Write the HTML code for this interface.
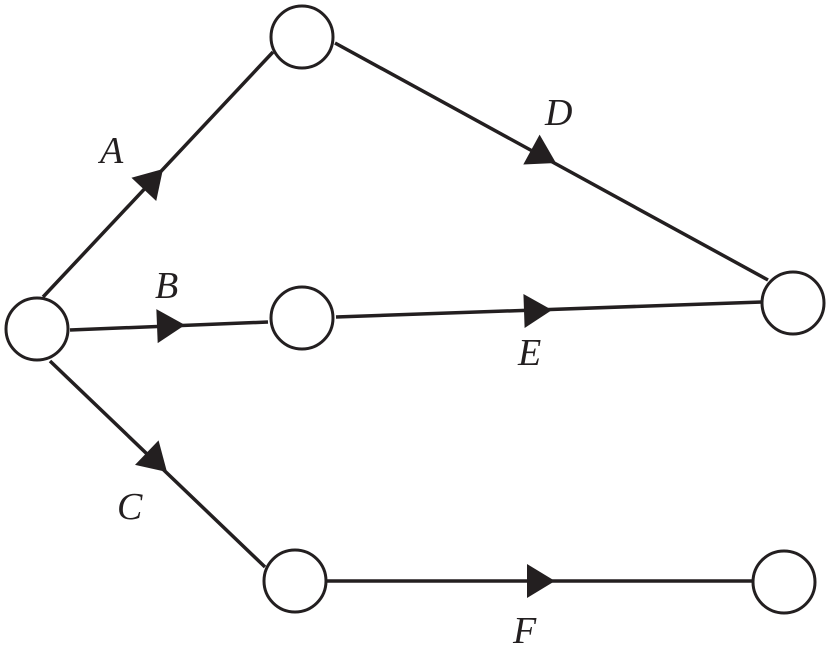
<!DOCTYPE html>
<html><head><style>
html,body{margin:0;padding:0;background:#fff;}
svg{display:block;}
text{font-family:"Liberation Serif",serif;font-style:italic;font-size:38px;fill:#231f20;}
</style></head><body>
<svg width="833" height="649" viewBox="0 0 833 649" xmlns="http://www.w3.org/2000/svg">
<g stroke="#231f20" stroke-width="3.5" fill="none">
<line x1="43" y1="297" x2="273" y2="52"/>
<line x1="70" y1="330" x2="268" y2="322"/>
<line x1="50" y1="361" x2="265" y2="567"/>
<line x1="335" y1="43" x2="768" y2="280"/>
<line x1="336" y1="317" x2="762" y2="302"/>
<line x1="327" y1="581" x2="752" y2="581"/>
</g>
<g fill="#231f20">
<polygon points="0,0 -28,-17 -28,17" transform="translate(163,169) rotate(-46.8)"/>
<polygon points="0,0 -28,-17 -28,17" transform="translate(185,325) rotate(-2.3)"/>
<polygon points="0,0 -28,-17 -28,17" transform="translate(167,472) rotate(43.8)"/>
<polygon points="0,0 -28,-17 -28,17" transform="translate(556,163) rotate(28.7)"/>
<polygon points="0,0 -28,-17 -28,17" transform="translate(552,310) rotate(-2)"/>
<polygon points="0,0 -28,-17 -28,17" transform="translate(555,581) rotate(0)"/>
</g>
<g stroke="#231f20" stroke-width="3" fill="#fff">
<circle cx="37" cy="329" r="31"/>
<circle cx="302" cy="37" r="31"/>
<circle cx="302" cy="318" r="31"/>
<circle cx="793" cy="303" r="31"/>
<circle cx="295" cy="581" r="31"/>
<circle cx="784" cy="582" r="31"/>
</g>
<text x="100" y="163">A</text>
<text x="155" y="298">B</text>
<text x="117" y="519">C</text>
<text x="545" y="125">D</text>
<text x="518" y="365">E</text>
<text x="513" y="643">F</text>
</svg>
</body></html>
